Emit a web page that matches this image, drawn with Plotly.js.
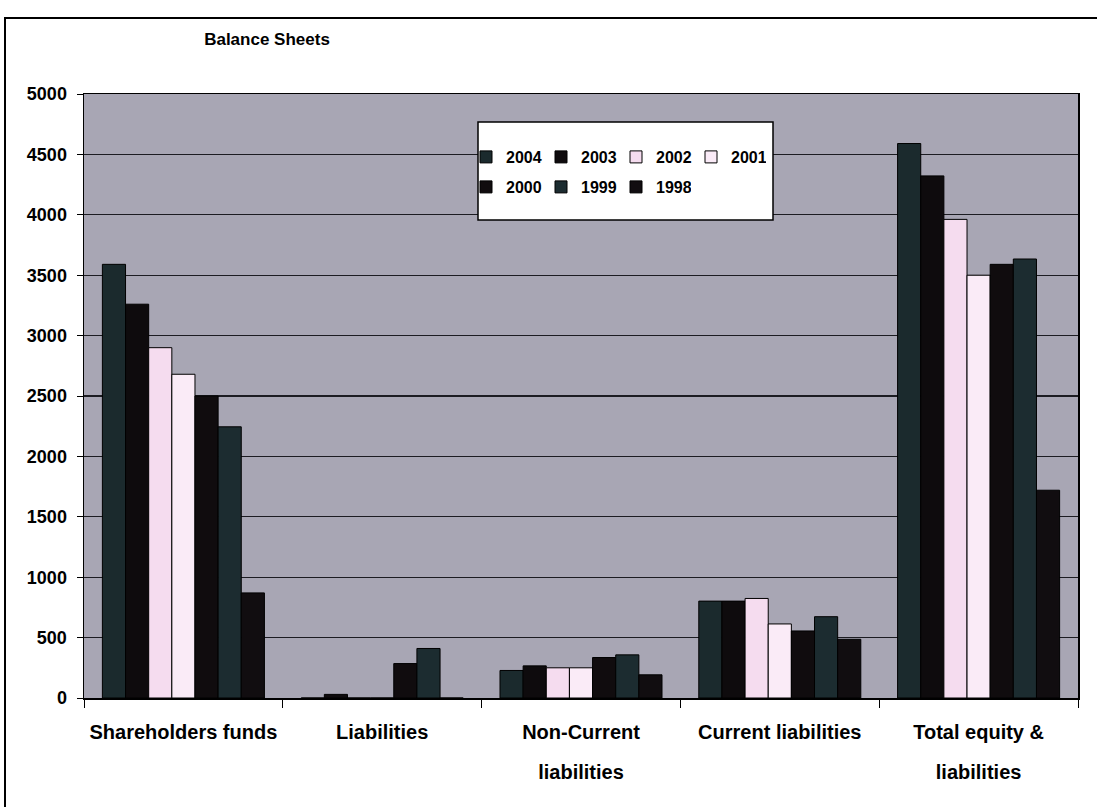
<!DOCTYPE html>
<html>
<head>
<meta charset="utf-8">
<script src="https://cdn.plot.ly/plotly-3.0.1.min.js"></script>
<style>
  html, body { margin: 0; padding: 0; background: #ffffff; }
  #chart { width: 1097px; height: 807px; }
</style>
</head>
<body>
<div id="chart"></div>
<script>
// Balance sheet items, grouped by financial year
const categories = [
  'Shareholders funds',
  'Liabilities',
  'Non-Current\nliabilities',
  'Current liabilities',
  'Total equity &\nliabilities'
];
const years = ['2004', '2003', '2002', '2001', '2000', '1999', '1998'];

// One array per year, in the order of the categories above
const v2004 = [3590, 0, 228, 802, 4590];
const v2003 = [3260, 30, 266, 802, 4322];
const v2002 = [2900, 0, 250, 824, 3962];
const v2001 = [2680, 0, 250, 613, 3500];
const v2000 = [2500, 285, 335, 555, 3590];
const v1999 = [2245, 410, 357, 673, 3634];
const v1998 = [870, 0, 192, 486, 1720];

const yTicks = [0, 500, 1000, 1500, 2000, 2500, 3000, 3500, 4000, 4500, 5000];

const seriesValues = [v2004, v2003, v2002, v2001, v2000, v1999, v1998];
const fills = ['#1b2a2d', '#0e0b0d', '#f5dcef', '#faebf7', '#100c0e', '#1c2c30', '#110d10'];

const FONT = 'Liberation Sans, Arial, Helvetica, sans-serif';

// Plot area in pixels (left, right, top, bottom of the axes box)
const W = 1097, H = 807;
const L = 84, R = 1078, T = 94, B = 698;
const px = x => (x - L) / (R - L);
const py = y => (B - y) / (B - T);

// Category labels: line breaks with wider spacing than the default
const tickText = categories.map(c =>
  c.split('\n').map(s => '<span style="font-size:20px">' + s + '</span>').join('<br><br>')
);

const traces = years.map((yr, i) => ({
  type: 'bar',
  name: yr,
  x: categories,
  y: seriesValues[i],
  marker: { color: fills[i], line: { color: '#000000', width: 1 } },
  legend: i < 4 ? 'legend' : 'legend2',
  hoverinfo: 'name+y'
}));

const legendCommon = {
  orientation: 'h',
  xanchor: 'left',
  yanchor: 'middle',
  bgcolor: 'rgba(0,0,0,0)',
  borderwidth: 0,
  itemwidth: 30,
  entrywidth: 30,
  entrywidthmode: 'pixels',
  font: { family: FONT, size: 16, color: '#000', weight: 'bold' },
  traceorder: 'normal'
};

const layout = {
  width: W,
  height: H,
  paper_bgcolor: '#ffffff',
  plot_bgcolor: '#a8a6b4',
  margin: { l: L, r: W - R, t: T, b: H - B, pad: 0 },
  barmode: 'group',
  bargap: 0.185,
  bargroupgap: 0,
  title: {
    text: 'Balance Sheets',
    font: { family: FONT, size: 17, color: '#000', weight: 'bold' },
    xref: 'container', yref: 'container',
    x: 267 / W, xanchor: 'center',
    y: 1 - 39 / H, yanchor: 'middle'
  },
  xaxis: {
    type: 'category',
    tickmode: 'array',
    tickvals: categories,
    ticktext: tickText,
    tickangle: 0,
    tickson: 'boundaries',
    ticks: 'outside',
    ticklen: 8,
    tickcolor: '#000',
    tickwidth: 1,
    ticklabelstandoff: 21,
    tickfont: { family: FONT, size: 15.4, color: '#000', weight: 'bold' },
    showline: true,
    linecolor: '#000',
    linewidth: 1.5,
    mirror: true,
    showgrid: false,
    zeroline: false
  },
  yaxis: {
    range: [0, 5000],
    tickmode: 'array',
    tickvals: yTicks,
    ticktext: yTicks.map(String),
    ticks: 'outside',
    ticklen: 6,
    tickcolor: '#000',
    tickwidth: 1,
    ticklabelstandoff: 6,
    tickfont: { family: FONT, size: 18, color: '#000', weight: 'bold' },
    showline: true,
    linecolor: '#000',
    linewidth: 1.5,
    mirror: true,
    showgrid: true,
    gridcolor: '#1c1c22',
    gridwidth: 1.2,
    zeroline: false
  },
  legend: Object.assign({}, legendCommon, { x: px(466), y: py(157) }),
  legend2: Object.assign({}, legendCommon, { x: px(466), y: py(187) }),
  shapes: [
    // legend frame
    {
      type: 'rect', xref: 'paper', yref: 'paper', layer: 'above',
      x0: px(478), x1: px(773), y0: py(220), y1: py(122),
      fillcolor: '#ffffff', line: { color: '#000', width: 1.5 }
    },
    // outer chart frame
    {
      type: 'rect', xref: 'paper', yref: 'paper', layer: 'below',
      x0: px(5), x1: px(W + 10), y0: py(H + 10), y1: py(18),
      line: { color: '#000', width: 2 }
    }
  ],
  showlegend: true
};

Plotly.newPlot('chart', traces, layout, { displayModeBar: false, staticPlot: true });
</script>
</body>
</html>
